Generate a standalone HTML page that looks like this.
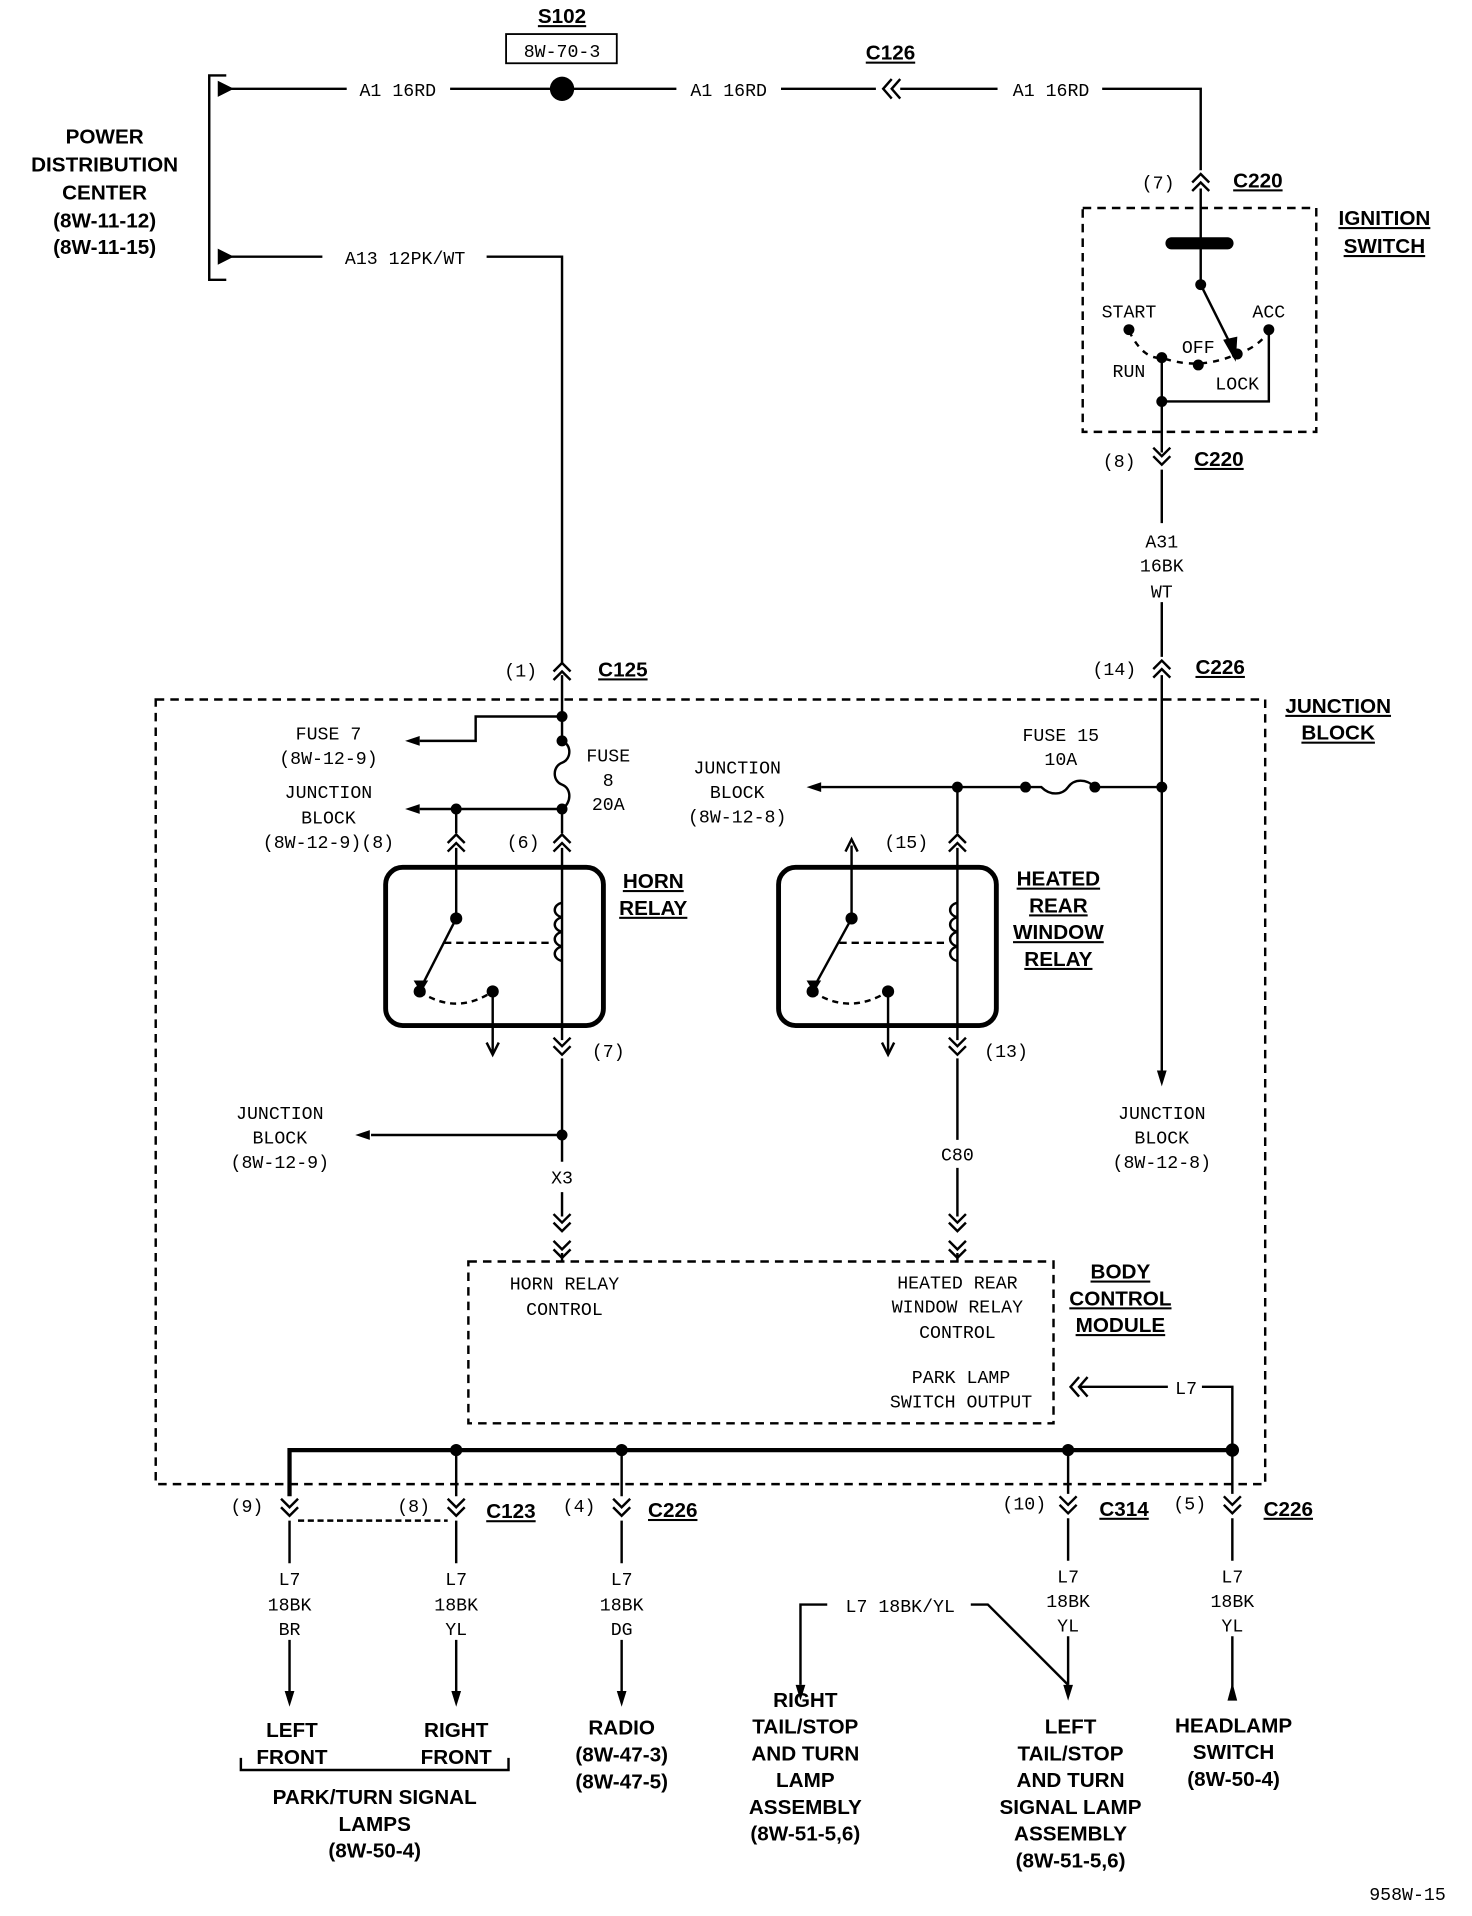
<!DOCTYPE html>
<html><head><meta charset="utf-8"><style>
html,body{margin:0;padding:0;background:#fff;}
svg{display:block;}
text{font-family:"Liberation Mono",monospace;font-size:15px;fill:#000;text-anchor:middle;}
.b{font-family:"Liberation Sans",sans-serif;font-weight:bold;font-size:17px;}
.u{text-decoration:underline;}
</style></head><body>
<svg width="1472" height="1916" viewBox="0 0 1210 1575" preserveAspectRatio="none" xmlns="http://www.w3.org/2000/svg">
<defs>
<g id="cu"><path d="M-7,3 L0,-4 L7,3 M-7,10 L0,3 L7,10" fill="none" stroke="#000" stroke-width="2"/></g>
<g id="cd"><path d="M-7,-3 L0,4 L7,-3 M-7,-10 L0,-3 L7,-10" fill="none" stroke="#000" stroke-width="2"/></g>
<g id="cl"><path d="M3,-8 L-4,0 L3,8 M10,-8 L3,0 L10,8" fill="none" stroke="#000" stroke-width="2"/></g>
<g id="ad"><path d="M-5,-10 L0,0 L5,-10" fill="none" stroke="#000" stroke-width="2"/></g>
<g id="au"><path d="M-5,10 L0,0 L5,10" fill="none" stroke="#000" stroke-width="2"/></g>
<g id="al"><path d="M0,0 L12,-4 L12,4 Z" fill="#000"/></g>
<g id="fd"><path d="M0,0 L-4,-13 L4,-13 Z" fill="#000"/></g>
</defs>
<g stroke="#000" stroke-width="2" fill="none">
<path d="M186,62 L172,62 L172,230 L186,230"/>
<path d="M180,68 L190,73 L180,78 Z" fill="#000"/>
<path d="M180,206 L190,211 L180,216 Z" fill="#000"/>
<path d="M190,73 L285,73 M370,73 L455,73 M470,73 L556,73 M642,73 L720,73 M740,73 L820,73 M906,73 L987,73 L987,140"/>
<path d="M190,211 L265,211 M400,211 L462,211 L462,545"/>
<rect x="416" y="28" width="91" height="24" stroke-width="1.5"/>
<path d="M987,155 L987,200 M987,200 L987,234"/>
<rect x="890" y="171" width="192" height="184" stroke-dasharray="7,5" stroke-width="2"/>
<path d="M987,234 L1013,286" />
<path d="M1007,280 L1015,294 L1016,278 Z" fill="#000"/>
<path d="M928,272 Q940,296 955,294 Q985,305 1017,291 Q1035,285 1043,272" stroke-dasharray="5,5"/>
<path d="M955,294 L955,372 M955,386 L955,430 M955,495 L955,540 M1043,272 L1043,330 L955,330"/>
<path d="M955,555 L955,880"/>
<rect x="128" y="575" width="912" height="645" stroke-dasharray="7,5" stroke-width="2"/>
<path d="M462,555 L462,609 M462,589 L391,589 L391,609 L345,609"/>
<path d="M462,609 C470,612 470,624 462,627 C454,630 454,642 462,645 C470,648 470,660 462,665"/>
<path d="M462,665 L345,665 M375,665 L375,685 M462,665 L462,685 M375,697 L375,755 M462,697 L462,855"/>
<rect x="317" y="713" width="179" height="130" rx="14" stroke-width="4"/>
<path d="M375,755 L348,808"/>
<path d="M365,775 L455,775" stroke-dasharray="6,4"/>
<path d="M345,815 Q375,835 405,815" stroke-dasharray="5,4"/>
<path d="M405,815 L405,865"/>
<path d="M462,742 c-8,2 -8,10 0,12 c-8,2 -8,10 0,12 c-8,2 -8,10 0,12 c-8,2 -8,10 0,12"/>
<path d="M462,870 L462,955 M462,980 L462,1000 M462,1030 L462,1037 M462,933 L305,933"/>
<path d="M955,647 L900,647 M843,647 L675,647"/>
<path d="M900,647 C893,640 883,640 878,647 C873,654 863,654 856,647 L843,647"/>
<path d="M787,647 L787,685 M787,697 L787,855 M700,755 L700,695"/>
<rect x="640" y="713" width="179" height="130" rx="14" stroke-width="4"/>
<path d="M700,755 L671,808"/>
<path d="M690,775 L780,775" stroke-dasharray="6,4"/>
<path d="M668,815 Q698,835 730,815" stroke-dasharray="5,4"/>
<path d="M730,815 L730,865"/>
<path d="M787,742 c-8,2 -8,10 0,12 c-8,2 -8,10 0,12 c-8,2 -8,10 0,12 c-8,2 -8,10 0,12"/>
<path d="M787,870 L787,937 M787,960 L787,1000 M787,1030 L787,1037"/>
<rect x="385" y="1037" width="481" height="133" stroke-dasharray="7,5" stroke-width="2"/>
<path d="M888,1140 L960,1140 M988,1140 L1013,1140 L1013,1192"/>
<path d="M238,1230 L238,1192 L1013,1192" stroke-width="3.5"/>
<path d="M375,1192 L375,1230 M511,1192 L511,1230 M878,1192 L878,1228 M1013,1192 L1013,1228"/>
<path d="M245,1250 L368,1250" stroke-dasharray="5,3"/>
<path d="M238,1250 L238,1285 M375,1250 L375,1285 M511,1250 L511,1285 M878,1248 L878,1283 M1013,1248 L1013,1283"/>
<path d="M238,1348 L238,1390 M375,1348 L375,1390 M511,1348 L511,1390 M878,1345 L878,1385 M1013,1345 L1013,1390"/>
<path d="M680,1319 L658,1319 L658,1385 M798,1319 L812,1319 L878,1385"/>
<path d="M198,1445 L198,1455 L418,1455 L418,1445"/>
</g>
<circle cx="462" cy="73" r="10"/>
<rect x="958" y="195" width="56" height="10" rx="5"/>
<g fill="#000">
<circle cx="987" cy="234" r="4.5"/><circle cx="928" cy="271" r="4.5"/><circle cx="1043" cy="271" r="4.5"/>
<circle cx="955" cy="294" r="4.5"/><circle cx="985" cy="300" r="4.5"/><circle cx="1017" cy="291" r="4.5"/><circle cx="955" cy="330" r="4.5"/>
<circle cx="462" cy="589" r="4.5"/><circle cx="462" cy="609" r="4.5"/><circle cx="462" cy="665" r="4.5"/><circle cx="375" cy="665" r="4.5"/>
<circle cx="375" cy="755" r="5"/><circle cx="345" cy="815" r="5"/><circle cx="405" cy="815" r="5"/><circle cx="462" cy="933" r="4.5"/>
<circle cx="955" cy="647" r="4.5"/><circle cx="900" cy="647" r="4.5"/><circle cx="843" cy="647" r="4.5"/><circle cx="787" cy="647" r="4.5"/>
<circle cx="700" cy="755" r="5"/><circle cx="668" cy="815" r="5"/><circle cx="730" cy="815" r="5"/>
<circle cx="375" cy="1192" r="5"/><circle cx="511" cy="1192" r="5"/><circle cx="878" cy="1192" r="5"/><circle cx="1013" cy="1192" r="5.5"/>
<path d="M340,806 L346,816 L352,806 Z"/><path d="M663,806 L669,816 L675,806 Z"/>
</g>
<use href="#al" x="333" y="609"/><use href="#al" x="333" y="665"/><use href="#al" x="292" y="933"/><use href="#al" x="663" y="647"/>
<use href="#ad" x="405" y="867"/><use href="#ad" x="730" y="867"/><use href="#au" x="700" y="690"/>
<use href="#fd" x="955" y="893"/>
<use href="#fd" x="238" y="1403"/><use href="#fd" x="375" y="1403"/><use href="#fd" x="511" y="1403"/><use href="#fd" x="658" y="1398"/><use href="#fd" x="878" y="1398"/>
<path d="M1013,1383 L1009,1398 L1017,1398 Z" fill="#000"/>
<use href="#cl" x="730" y="73"/><use href="#cl" x="884" y="1140"/>
<use href="#cu" x="987" y="147"/><use href="#cd" x="955" y="378"/><use href="#cu" x="955" y="547"/><use href="#cu" x="462" y="549"/>
<use href="#cu" x="375" y="690"/><use href="#cu" x="462" y="690"/><use href="#cu" x="787" y="690"/>
<use href="#cd" x="462" y="863"/><use href="#cd" x="787" y="863"/>
<use href="#cd" x="462" y="1008"/><use href="#cd" x="462" y="1030"/><use href="#cd" x="787" y="1008"/><use href="#cd" x="787" y="1030"/>
<use href="#cd" x="238" y="1242"/><use href="#cd" x="375" y="1242"/><use href="#cd" x="511" y="1242"/><use href="#cd" x="878" y="1240"/><use href="#cd" x="1013" y="1240"/>

<text class="b u" x="462" y="19">S102</text>
<text x="462" y="47">8W-70-3</text>
<text class="b u" x="732" y="49">C126</text>
<text x="327" y="79">A1 16RD</text><text x="599" y="79">A1 16RD</text><text x="864" y="79">A1 16RD</text>
<text x="333" y="217">A13 12PK/WT</text>
<text class="b" x="86" y="118">POWER</text><text class="b" x="86" y="141">DISTRIBUTION</text><text class="b" x="86" y="164">CENTER</text>
<text class="b" x="86" y="187">(8W-11-12)</text><text class="b" x="86" y="209">(8W-11-15)</text>
<text x="952" y="155">(7)</text><text class="b u" x="1034" y="154">C220</text>
<text class="b u" x="1138" y="185">IGNITION</text><text class="b u" x="1138" y="208">SWITCH</text>
<text x="928" y="261">START</text><text x="1043" y="261">ACC</text><text x="985" y="290">OFF</text><text x="928" y="310">RUN</text><text x="1017" y="320">LOCK</text>
<text x="920" y="384">(8)</text><text class="b u" x="1002" y="383">C220</text>
<text x="955" y="450">A31</text><text x="955" y="470">16BK</text><text x="955" y="491">WT</text>
<text x="916" y="555">(14)</text><text class="b u" x="1003" y="554">C226</text>
<text x="428" y="556">(1)</text><text class="b u" x="512" y="556">C125</text>
<text class="b u" x="1100" y="586">JUNCTION</text><text class="b u" x="1100" y="608">BLOCK</text>
<text x="270" y="608">FUSE 7</text><text x="270" y="628">(8W-12-9)</text>
<text x="500" y="626">FUSE</text><text x="500" y="646">8</text><text x="500" y="666">20A</text>
<text x="270" y="656">JUNCTION</text><text x="270" y="677">BLOCK</text><text x="270" y="697">(8W-12-9)(8)</text>
<text x="430" y="697">(6)</text>
<text class="b u" x="537" y="730">HORN</text><text class="b u" x="537" y="752">RELAY</text>
<text x="872" y="609">FUSE 15</text><text x="872" y="629">10A</text>
<text x="606" y="636">JUNCTION</text><text x="606" y="656">BLOCK</text><text x="606" y="676">(8W-12-8)</text>
<text x="745" y="697">(15)</text>
<text class="b u" x="870" y="728">HEATED</text><text class="b u" x="870" y="750">REAR</text><text class="b u" x="870" y="772">WINDOW</text><text class="b u" x="870" y="794">RELAY</text>
<text x="500" y="869">(7)</text><text x="827" y="869">(13)</text>
<text x="230" y="920">JUNCTION</text><text x="230" y="940">BLOCK</text><text x="230" y="960">(8W-12-9)</text>
<text x="955" y="920">JUNCTION</text><text x="955" y="940">BLOCK</text><text x="955" y="960">(8W-12-8)</text>
<text x="462" y="973">X3</text><text x="787" y="954">C80</text>
<text x="464" y="1060">HORN RELAY</text><text x="464" y="1081">CONTROL</text>
<text x="787" y="1059">HEATED REAR</text><text x="787" y="1079">WINDOW RELAY</text><text x="787" y="1100">CONTROL</text>
<text x="790" y="1137">PARK LAMP</text><text x="790" y="1157">SWITCH OUTPUT</text>
<text class="b u" x="921" y="1051">BODY</text><text class="b u" x="921" y="1073">CONTROL</text><text class="b u" x="921" y="1095">MODULE</text>
<text x="975" y="1146">L7</text>
<text x="203" y="1243">(9)</text><text x="340" y="1243">(8)</text><text class="b u" x="420" y="1248">C123</text>
<text x="476" y="1243">(4)</text><text class="b u" x="553" y="1247">C226</text>
<text x="842" y="1241">(10)</text><text class="b u" x="924" y="1246">C314</text>
<text x="978" y="1241">(5)</text><text class="b u" x="1059" y="1246">C226</text>
<text x="238" y="1303">L7</text><text x="238" y="1324">18BK</text><text x="238" y="1344">BR</text>
<text x="375" y="1303">L7</text><text x="375" y="1324">18BK</text><text x="375" y="1344">YL</text>
<text x="511" y="1303">L7</text><text x="511" y="1324">18BK</text><text x="511" y="1344">DG</text>
<text x="878" y="1301">L7</text><text x="878" y="1321">18BK</text><text x="878" y="1341">YL</text>
<text x="1013" y="1301">L7</text><text x="1013" y="1321">18BK</text><text x="1013" y="1341">YL</text>
<text x="740" y="1325">L7 18BK/YL</text>
<text class="b" x="240" y="1428">LEFT</text><text class="b" x="240" y="1450">FRONT</text>
<text class="b" x="375" y="1428">RIGHT</text><text class="b" x="375" y="1450">FRONT</text>
<text class="b" x="308" y="1483">PARK/TURN SIGNAL</text><text class="b" x="308" y="1505">LAMPS</text><text class="b" x="308" y="1527">(8W-50-4)</text>
<text class="b" x="511" y="1426">RADIO</text><text class="b" x="511" y="1448">(8W-47-3)</text><text class="b" x="511" y="1470">(8W-47-5)</text>
<text class="b" x="662" y="1403">RIGHT</text><text class="b" x="662" y="1425">TAIL/STOP</text><text class="b" x="662" y="1447">AND TURN</text><text class="b" x="662" y="1469">LAMP</text><text class="b" x="662" y="1491">ASSEMBLY</text><text class="b" x="662" y="1513">(8W-51-5,6)</text>
<text class="b" x="880" y="1425">LEFT</text><text class="b" x="880" y="1447">TAIL/STOP</text><text class="b" x="880" y="1469">AND TURN</text><text class="b" x="880" y="1491">SIGNAL LAMP</text><text class="b" x="880" y="1513">ASSEMBLY</text><text class="b" x="880" y="1535">(8W-51-5,6)</text>
<text class="b" x="1014" y="1424">HEADLAMP</text><text class="b" x="1014" y="1446">SWITCH</text><text class="b" x="1014" y="1468">(8W-50-4)</text>
<text x="1157" y="1562">958W-15</text>
</svg>
</body></html>
